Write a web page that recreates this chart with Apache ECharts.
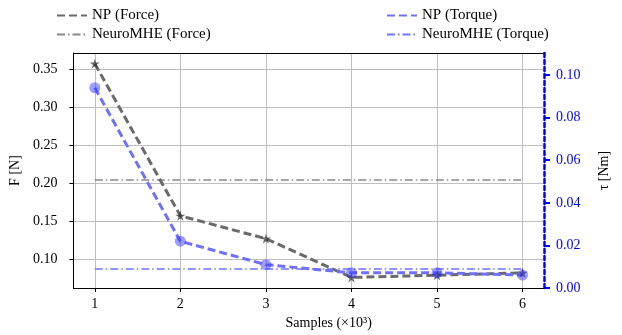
<!DOCTYPE html>
<html>
<head>
<meta charset="utf-8">
<script src="https://cdn.jsdelivr.net/npm/echarts@6/dist/echarts.min.js"></script>
<style>html,body{margin:0;padding:0;background:#fff;}#c{width:622px;height:335px;}</style>
</head>
<body>
<div id="c"></div>
<script>
const samples = [1, 2, 3, 4, 5, 6];
const npForce = [0.357, 0.157, 0.127, 0.076, 0.079, 0.082];
const npTorque = [0.094, 0.022, 0.011, 0.0072, 0.0072, 0.0061];
const neuroForce = [0.204, 0.204, 0.204, 0.204, 0.204, 0.204];
const neuroTorque = [0.009, 0.009, 0.009, 0.009, 0.009, 0.009];
const xTicks = [1, 2, 3, 4, 5, 6];
const forceTicks = [0.10, 0.15, 0.20, 0.25, 0.30, 0.35];
const torqueTicks = [0.00, 0.02, 0.04, 0.06, 0.08, 0.10];

const pairs = (ys) => samples.map((x, i) => [x, ys[i]]);
const FONT = 'Liberation Serif';
const STAR = 'path://M0,-1 L0.2245,-0.309 L0.951,-0.309 L0.363,0.118 L0.588,0.809 L0,0.382 L-0.588,0.809 L-0.363,0.118 L-0.951,-0.309 L-0.2245,-0.309 Z';

const legendBase = {
  orient: 'vertical', top: 1, itemWidth: 30, itemHeight: 12, itemGap: 0,
  itemStyle: {opacity: 0},
  textStyle: {fontFamily: FONT, fontSize: 15, color: '#000', lineHeight: 19}
};

const chart = echarts.init(document.getElementById('c'), null, {renderer: 'canvas'});
chart.setOption({
  animation: false,
  backgroundColor: '#fff',
  grid: {left: 72, right: 78, top: 53, bottom: 46, show: false},
  legend: [
    Object.assign({data: ['NP (Force)', 'NeuroMHE (Force)'], left: 51}, legendBase),
    Object.assign({data: ['NP (Torque)', 'NeuroMHE (Torque)'], left: 381}, legendBase)
  ],
  xAxis: [
    {type: 'value', min: 0.75, max: 6.25, position: 'bottom',
     name: 'Samples (×10³)', nameLocation: 'middle', nameGap: 25,
     nameTextStyle: {fontFamily: FONT, fontSize: 14, color: '#000', padding: [0, 0, 0, 40]},
     axisLine: {show: true, lineStyle: {color: '#000', width: 1}},
     axisTick: {show: true, length: 4, customValues: xTicks, lineStyle: {color: '#000'}},
     axisLabel: {customValues: xTicks, margin: 9, fontFamily: FONT, fontSize: 14, color: '#000',
       formatter: (v) => String(v)},
     splitLine: {show: true, lineStyle: {color: '#bfbfbf', width: 1}}},
    {type: 'value', min: 0.75, max: 6.25, position: 'top',
     axisLine: {show: true, lineStyle: {color: '#000', width: 1}},
     axisTick: {show: false}, axisLabel: {show: false}, splitLine: {show: false}}
  ],
  yAxis: [
    {type: 'value', min: 0.062, max: 0.371, position: 'left',
     name: 'F [N]', nameLocation: 'middle', nameGap: 47, nameRotate: 90,
     nameTextStyle: {fontFamily: FONT, fontSize: 14, color: '#000'},
     axisLine: {show: true, lineStyle: {color: '#000', width: 1}},
     axisTick: {show: true, length: 4, customValues: forceTicks, lineStyle: {color: '#000'}},
     axisLabel: {customValues: forceTicks, margin: 16, fontFamily: FONT, fontSize: 14, color: '#000',
       formatter: (v) => v.toFixed(2)},
     splitLine: {show: true, lineStyle: {color: '#bfbfbf', width: 1}}},
    {type: 'value', min: 0, max: 0.1103, position: 'right',
     name: 'τ [Nm]', nameLocation: 'middle', nameGap: 53, nameRotate: 90,
     nameTextStyle: {fontFamily: FONT, fontSize: 14, color: '#000'},
     axisLine: {show: true, lineStyle: {color: '#0000ff', width: 2.5, type: [4, 3]}},
     axisTick: {show: true, length: 6, customValues: torqueTicks, lineStyle: {color: '#0000ff', width: 2}},
     axisLabel: {customValues: torqueTicks, margin: 12, fontFamily: FONT, fontSize: 14, color: '#0000ff',
       formatter: (v) => v.toFixed(2)},
     splitLine: {show: false}}
  ],
  series: [
    {name: 'NeuroMHE (Force)', type: 'line', yAxisIndex: 0, data: pairs(neuroForce), symbol: 'none',
     lineStyle: {color: '#8a8a8a', width: 1.5, type: [8, 3, 1.5, 3]}, itemStyle: {color: '#8a8a8a'}, z: 2},
    {name: 'NeuroMHE (Torque)', type: 'line', yAxisIndex: 1, data: pairs(neuroTorque), symbol: 'none',
     lineStyle: {color: '#7272ff', width: 1.5, type: [8, 3, 1.5, 3]}, itemStyle: {color: '#7272ff'}, z: 2},
    {name: 'NP (Force)', type: 'line', yAxisIndex: 0, data: pairs(npForce), symbol: 'none',
     lineStyle: {color: '#6a6a6a', width: 3, type: [8, 4]}, itemStyle: {color: '#6a6a6a'}, z: 3},
    {name: 'NP (Torque)', type: 'line', yAxisIndex: 1, data: pairs(npTorque), symbol: 'none',
     lineStyle: {color: '#7070ff', width: 3, type: [8, 4]}, itemStyle: {color: '#7070ff'}, z: 3},
    {name: 'forceMarks', type: 'scatter', yAxisIndex: 0, data: pairs(npForce), symbol: STAR, symbolSize: 10,
     itemStyle: {color: 'rgba(40,40,40,0.85)'}, z: 4},
    {name: 'torqueMarks', type: 'scatter', yAxisIndex: 1, data: pairs(npTorque), symbol: 'circle', symbolSize: 11,
     itemStyle: {color: 'rgba(50,50,255,0.6)'}, z: 4}
  ]
});
</script>
</body>
</html>
